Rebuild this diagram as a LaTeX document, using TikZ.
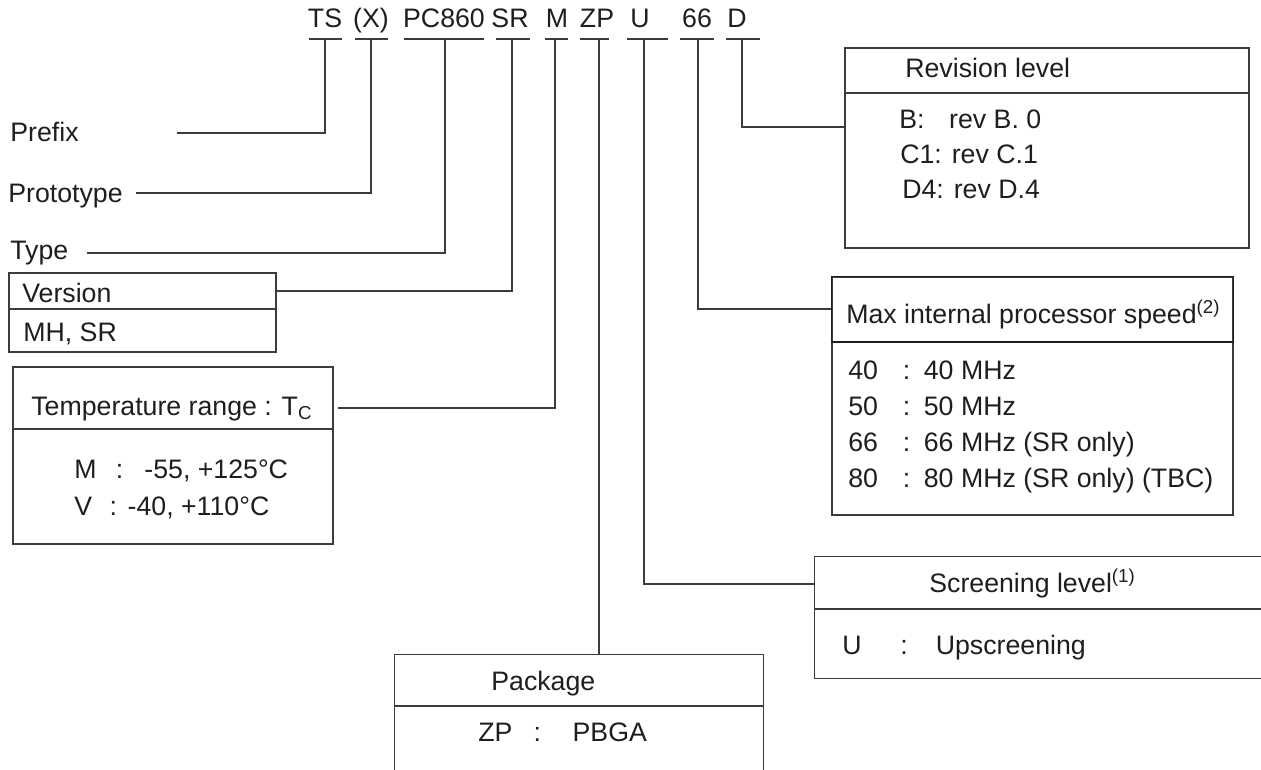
\documentclass[tikz,border=0pt]{standalone}
\usepackage{fontspec}
\setmainfont{Liberation Sans}
\usetikzlibrary{fit,positioning}
\definecolor{ink}{HTML}{1E1E1E}
\definecolor{wire}{HTML}{3C3C3C}
\tikzset{
    code diagram/.style = {x=0.2mm, y=-0.2mm, text=ink,
                           font=\fontsize{15.2}{18}\selectfont},
    line/.style         = {draw=wire, line width=0.6pt},
    box/.style          = {line, inner sep=0pt},
    frame/.style        = {inner sep=0pt},
    field/.style        = {inner sep=0pt, anchor=base},
    tag/.style          = {inner sep=0pt, anchor=base west}
}

\begin{document}
\begin{tikzpicture}[code diagram]
\useasboundingbox (0,0) rectangle (1261,770);

% ================= Part number fields =================
\node[field] (ts) at (325,27) {TS};
\node[field] (xx) at (371,27) {(X)};
\node[field] (pc) at (444,27) {PC860};
\node[field] (sr) at (510,27) {SR};
\node[field] (mm) at (557,27) {M};
\node[field] (zp) at (597,27) {ZP};
\node[field] (uu) at (640,27) {U};
\node[field] (sp) at (697,27) {66};
\node[field] (dd) at (737,27) {D};
\foreach \a/\b in {309/342, 355/388, 404/484, 496/530, 545/568,
                   580/609, 627/668, 680/714, 726/760}
    \draw[line] (\a,39) -- (\b,39);
\coordinate (ts-u) at (325,39);
\coordinate (xx-u) at (371,39);
\coordinate (pc-u) at (445,39);
\coordinate (sr-u) at (512,39);
\coordinate (mm-u) at (555,39);
\coordinate (zp-u) at (599,39);
\coordinate (uu-u) at (644,39);
\coordinate (sp-u) at (698,39);
\coordinate (dd-u) at (742,39);

% ================= Left side =================
\node[tag] (prefix) at (10,141) {Prefix};
\node[tag] (proto) at (8,202) {Prototype};
\node[tag] (type) at (10,259) {Type};
\coordinate (prefix-end) at (177,133);
\coordinate (proto-end) at (136,193);
\coordinate (type-end) at (87,253);

\node[box, fit={(9,273) (276,352)}] (ver) {};
\draw[line] (ver.west |- 0,309) -- (ver.east |- 0,309);
\node[tag] (ver-h) at (22,302) {Version};
\node[tag] (ver-a) at (23,341) {MH, SR};

\node[box, fit={(13,367) (333,544)}] (temp) {};
\draw[line] (temp.west |- 0,429) -- (temp.east |- 0,429);
\node[tag] (temp-h) at (31,415) {Temperature range : T\textsubscript{C}};
\node[tag] (temp-m) at (74,478) {M\hspace{11pt}:\hspace{12pt}-55, +125°C};
\node[tag] (temp-v) at (74,515) {V\hspace{10pt}:\hspace{6pt}-40, +110°C};
\coordinate (temp-end) at (338,408);

% ================= Package =================
\node[frame, fit={(395,655) (763,770)}] (pkg) {};
\draw[line] (pkg.south west) |- (pkg.north east) -- (pkg.south east);
\draw[line] (pkg.west |- 0,706) -- (pkg.east |- 0,706);
\node[tag] (pkg-h) at (491,690) {Package};
\node[tag] (pkg-a) at (478,741) {ZP\hspace{12pt}:\hspace{18pt}PBGA};

% ================= Screening level =================
\node[frame, fit={(815,557) (1261,678)}] (scr) {};
\draw[line] (scr.north east) -| (scr.south west) -- (scr.south east);
\draw[line] (scr.west |- 0,609) -- (scr.east |- 0,609);
\node[tag] (scr-h) at (929,592) {Screening level\textsuperscript{(1)}};
\node[tag] (scr-a) at (842,654) {U\hspace{22pt}:\hspace{16pt}Upscreening};

% ================= Processor speed =================
\node[box, fit={(832,277) (1233,515)}] (spd) {};
\draw[line, line width=1pt, draw=ink] (spd.north west) rectangle (spd.east |- 0,342);
\node[tag] (spd-h) at (846,323) {Max internal processor speed\textsuperscript{(2)}};
\foreach \n/\v [count=\i from 0] in {40/40 MHz, 50/50 MHz,
        66/66 MHz (SR only), 80/80 MHz (SR only) (TBC)}
    \node[tag] (spd-\n) at (848,379+36*\i)
        {\makebox[31pt][l]{\n}\makebox[12pt][l]{:}\v};

% ================= Revision level =================
\node[box, fit={(845,48) (1249,248)}] (rev) {};
\draw[line] (rev.west |- 0,93) -- (rev.east |- 0,93);
\node[tag] (rev-h) at (905,77) {Revision level};
\node[tag] (rev-b) at (899,128) {B:\hspace{14pt}rev B. 0};
\node[tag] (rev-c) at (900,163) {C1: rev C.1};
\node[tag] (rev-d) at (902,198) {D4: rev D.4};

% ================= Connectors =================
\draw[line] (prefix-end) -| (ts-u);
\draw[line] (proto-end) -| (xx-u);
\draw[line] (type-end) -| (pc-u);
\draw[line] (ver.east |- 0,291) -| (sr-u);
\draw[line] (temp-end) -| (mm-u);
\draw[line] (zp-u) -- (zp-u |- pkg.north);
\draw[line] (uu-u) |- (scr.west |- 0,584);
\draw[line] (sp-u) |- (spd.west |- 0,309);
\draw[line] (dd-u) |- (rev.west |- 0,127);

\end{tikzpicture}
\end{document}
